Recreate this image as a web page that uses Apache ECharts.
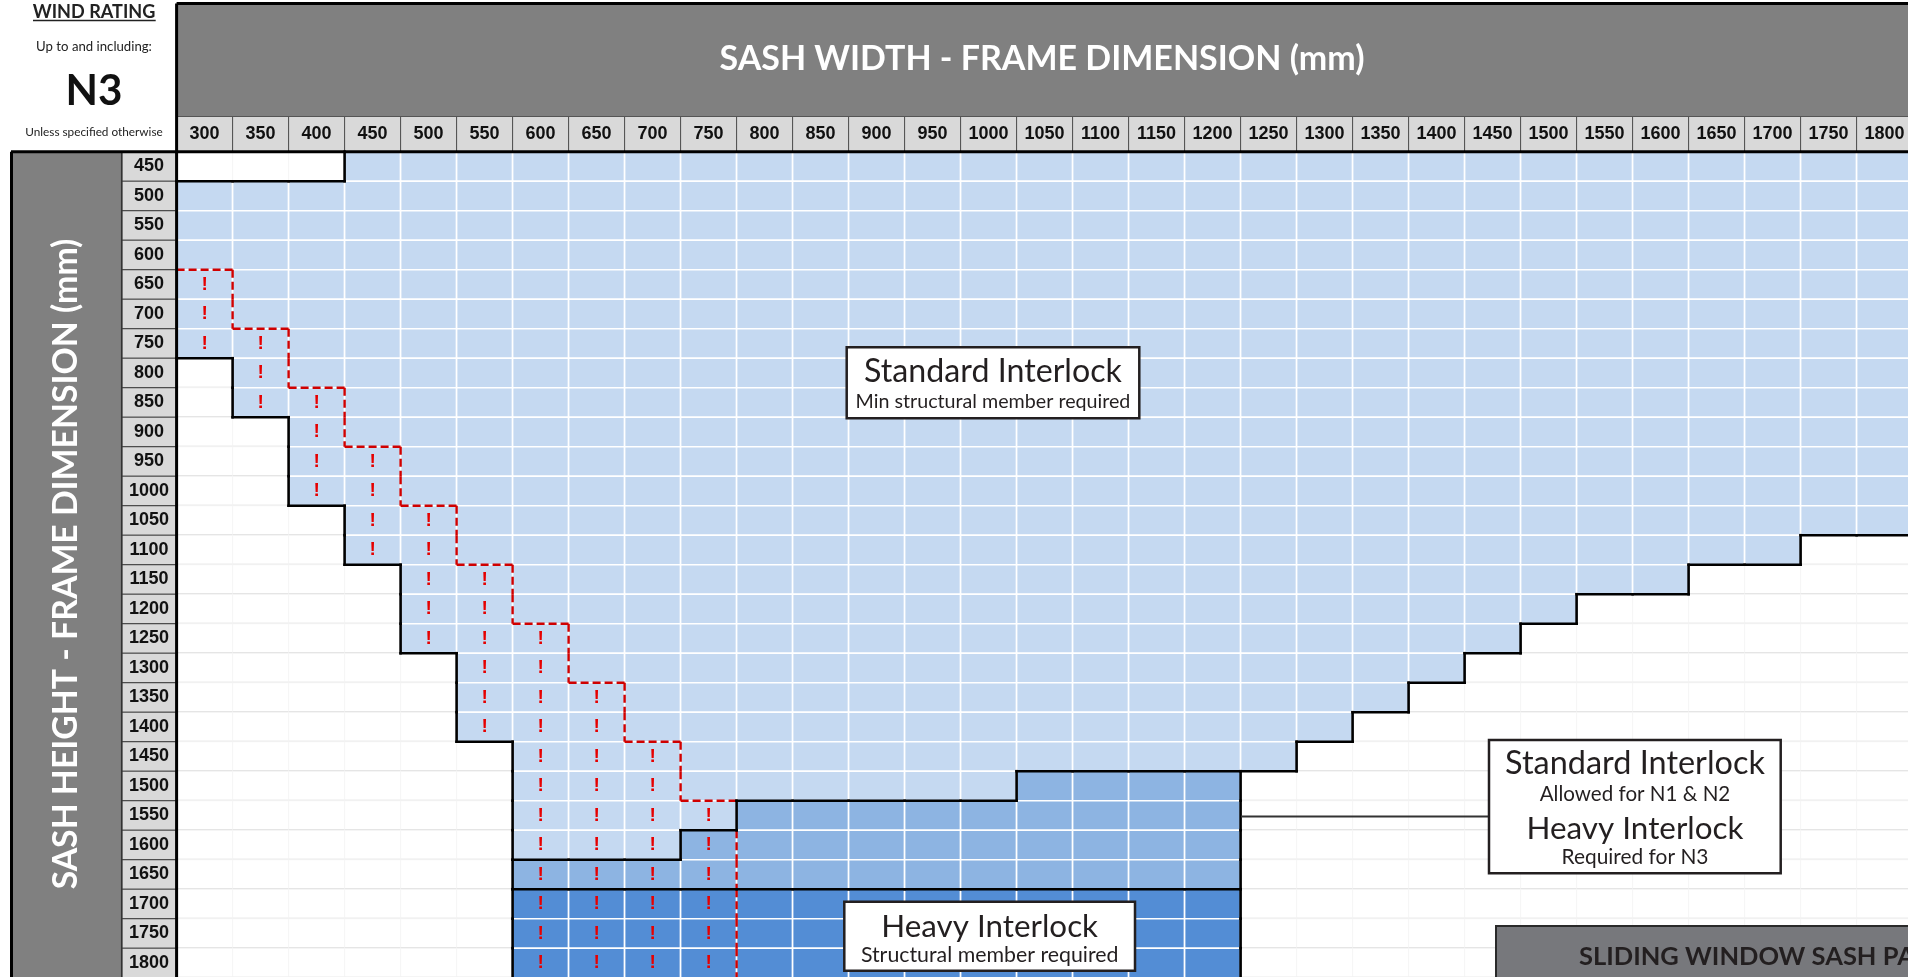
<!DOCTYPE html>
<html>
<head>
<meta charset="utf-8">
<script src="https://cdn.jsdelivr.net/npm/echarts@6.0.0/dist/echarts.min.js"></script>
<style>
html,body{margin:0;padding:0;background:#fff;}
#chart{width:1908px;height:977px;}
</style>
</head>
<body>
<div id="chart"></div>
<script>
// ---------- DATA ----------
const widths = [300,350,400,450,500,550,600,650,700,750,800,850,900,950,1000,1050,1100,1150,1200,1250,1300,1350,1400,1450,1500,1550,1600,1650,1700,1750,1800];
const heights = [450,500,550,600,650,700,750,800,850,900,950,1000,1050,1100,1150,1200,1250,1300,1350,1400,1450,1500,1550,1600,1650,1700,1750,1800];
// first and last sash width that is allowed, for each sash height
const firstColoured = [450,300,300,300,300,300,300,350,350,400,400,400,450,450,500,500,500,550,550,550,600,600,600,600,600,600,600,600];
const lastColoured  = [1800,1800,1800,1800,1800,1800,1800,1800,1800,1800,1800,1800,1800,1700,1600,1500,1450,1400,1350,1300,1250,1200,1200,1200,1200,1200,1200,1200];
// "!" cells run from the first allowed width up to this width (0 = none)
const lastWarning   = [0,0,0,0,300,300,350,350,400,400,450,450,500,500,550,550,600,600,650,650,700,700,750,750,750,750,750,750];
// interlock tier: from this width on (0 = none), level 2 = N1&N2 std / N3 heavy, level 3 = heavy interlock
const interlockFrom  = [0,0,0,0,0,0,0,0,0,0,0,0,0,0,0,0,0,0,0,0,0,1050,800,750,600,600,600,600];
const interlockLevel = [0,0,0,0,0,0,0,0,0,0,0,0,0,0,0,0,0,0,0,0,0,2,2,2,2,3,3,3];

// ---------- build the cell table ----------
const code = [], warn = [];
heights.forEach((h, j) => {
  code[j] = []; warn[j] = [];
  widths.forEach((w, i) => {
    let c = 0;
    if (w >= firstColoured[j] && w <= lastColoured[j]) {
      c = (interlockFrom[j] && w >= interlockFrom[j]) ? interlockLevel[j] : 1;
    }
    code[j][i] = c;
    warn[j][i] = c > 0 && w <= lastWarning[j];
  });
});
const cellData = [], markData = [], blackEdges = [], redEdges = [];
for (let j = 0; j < heights.length; j++) {
  for (let i = 0; i < widths.length; i++) {
    cellData.push([i, j, code[j][i]]);
    if (warn[j][i]) markData.push([i, j]);
    if (i + 1 < widths.length) {
      if (code[j][i] !== code[j][i + 1]) blackEdges.push([i, j, 0]);
      else if (warn[j][i] !== warn[j][i + 1]) redEdges.push([i, j, 0]);
    }
    if (j + 1 < heights.length) {
      if (code[j][i] !== code[j + 1][i]) blackEdges.push([i, j, 1]);
      else if (warn[j][i] !== warn[j + 1][i]) redEdges.push([i, j, 1]);
    }
  }
}

// ---------- styling helpers ----------
const SHADE = {1: '#c5d9f1', 2: '#8db4e2', 3: '#538dd5'};
const ANN = "Lato, 'Open Sans', sans-serif";
const NUM = "'Liberation Sans', Arial, sans-serif";
const mctx = document.createElement('canvas').getContext('2d');
function fit(text, weight, family, target) {
  mctx.font = weight + ' 100px ' + family;
  return 100 * target / mctx.measureText(text).width;
}
function txt(text, x, y, weight, family, target, color, extra) {
  const fs = fit(text, weight, family, target);
  return Object.assign({
    type: 'text', x: x, y: y, z: 100,
    style: {text: text, fill: color, fontSize: fs, fontWeight: weight, fontFamily: family,
            align: 'center', verticalAlign: 'middle', textAlign: 'center', textVerticalAlign: 'middle'}
  }, extra || {});
}
function line(x1, y1, x2, y2, stroke, lw, z) {
  return {type: 'line', z: z || 100, shape: {x1, y1, x2, y2}, style: {stroke: stroke, lineWidth: lw}};
}
function box(x, y, w, h, fill, stroke, lw, z) {
  return {type: 'rect', z: z || 100, shape: {x: x, y: y, width: w, height: h},
          style: {fill: fill, stroke: stroke, lineWidth: lw}};
}

function edgeRender(kind) {
  return function (params, api) {
    const c = api.coord([api.value(0), api.value(1)]);
    const s = api.size([1, 1]);
    let shape;
    if (api.value(2) === 0) {
      const x = c[0] + s[0] / 2;
      shape = {x1: x, y1: c[1] - s[1] / 2, x2: x, y2: c[1] + s[1] / 2};
    } else {
      const y = c[1] + s[1] / 2;
      shape = {x1: c[0] - s[0] / 2, y1: y, x2: c[0] + s[0] / 2, y2: y};
    }
    return kind === 'black'
      ? {type: 'line', shape: shape, style: {stroke: '#000', lineWidth: 2.6, lineCap: 'square'}}
      : {type: 'line', shape: shape, style: {stroke: '#d00000', lineWidth: 2.4, lineDash: [8, 4]}};
  };
}

const chart = echarts.init(document.getElementById('chart'), null, {renderer: 'canvas'});
const option = {
  animation: false,
  backgroundColor: '#ffffff',
  grid: {left: 176.6, top: 151.7, width: 1736, height: 826, containLabel: false, outerBoundsMode: 'none'},
  xAxis: {
    type: 'category', position: 'top', data: widths.map(String),
    axisLine: {show: false}, axisTick: {show: false}, splitLine: {show: false},
    axisLabel: {interval: 0, margin: 17.8, align: 'center', verticalAlign: 'middle',
      width: 55, height: 34, lineHeight: 34, backgroundColor: '#d9d9d9', borderColor: '#555', borderWidth: 1,
      color: '#111', fontSize: 18, fontWeight: 'bold', fontFamily: NUM}
  },
  yAxis: {
    type: 'category', inverse: true, data: heights.map(String),
    axisLine: {show: false}, axisTick: {show: false}, splitLine: {show: false},
    axisLabel: {interval: 0, margin: 27.5, align: 'center', verticalAlign: 'middle',
      width: 53.5, height: 28.5, lineHeight: 28.5, backgroundColor: '#d9d9d9', borderColor: '#444', borderWidth: 1,
      color: '#111', fontSize: 18, fontWeight: 'bold', fontFamily: NUM}
  },
  series: [
    {
      type: 'custom', name: 'cells', data: cellData, encode: {x: 0, y: 1}, silent: true, z: 2,
      renderItem: function (params, api) {
        const c = api.coord([api.value(0), api.value(1)]);
        const s = api.size([1, 1]);
        const x = c[0] - s[0] / 2, y = c[1] - s[1] / 2;
        const k = api.value(2);
        if (k > 0) {
          return {type: 'rect', shape: {x: x, y: y, width: s[0], height: s[1]},
                  style: {fill: SHADE[k], stroke: '#ffffff', lineWidth: 1.6}};
        }
        return {type: 'group', children: [
          {type: 'rect', shape: {x: x, y: y, width: s[0], height: s[1]}, style: {fill: '#ffffff', stroke: '#f5f5f5', lineWidth: 1}},
          {type: 'line', shape: {x1: x, y1: y + s[1], x2: x + s[0], y2: y + s[1]}, style: {stroke: '#d5d5d5', lineWidth: 2}}
        ]};
      }
    },
    {type: 'custom', name: 'warnEdge', data: redEdges, encode: {x: 0, y: 1}, silent: true, z: 3, renderItem: edgeRender('red')},
    {type: 'custom', name: 'zoneEdge', data: blackEdges, encode: {x: 0, y: 1}, silent: true, z: 4, renderItem: edgeRender('black')},
    {
      type: 'custom', name: 'warn', data: markData, encode: {x: 0, y: 1}, silent: true, z: 5,
      renderItem: function (params, api) {
        const c = api.coord([api.value(0), api.value(1)]);
        return {type: 'text', x: c[0], y: c[1],
                style: {text: '!', fill: '#e60000', fontSize: 19, fontWeight: 'bold', fontFamily: NUM,
                        align: 'center', verticalAlign: 'middle'}};
      }
    }
  ],
  graphic: [
    // column header band
    box(176.6, 3.5, 1740, 112.5, '#808080', null, 0, 1),
    line(176.6, 3.5, 1908, 3.5, '#000', 3, 2),
    txt('SASH WIDTH - FRAME DIMENSION (mm)', 1042, 59, 'bold', ANN, 645, '#ffffff'),
    // row header band
    box(11, 151.7, 110.7, 830, '#808080', null, 0, 1),
    line(11.5, 151.7, 11.5, 977, '#000', 3, 2),
    line(121.7, 151.7, 121.7, 977, '#333', 1.5, 2),
    txt('SASH HEIGHT - FRAME DIMENSION (mm)', 66, 564, 'bold', ANN, 651, '#ffffff', {rotation: Math.PI / 2}),
    line(11, 151.7, 1908, 151.7, '#000', 3, 90),
    line(176.6, 3.5, 176.6, 977, '#000', 3, 90),
    // wind rating block
    txt('WIND RATING', 94, 12.5, 'bold', ANN, 122.7, '#222'),
    line(33, 20.5, 155.7, 20.5, '#222', 1.3),
    txt('Up to and including:', 94, 47, 'normal', ANN, 116, '#222'),
    txt('N3', 94, 91, 'bold', ANN, 57, '#111'),
    txt('Unless specified otherwise', 94, 132.5, 'normal', ANN, 137.7, '#222'),
    // annotation: standard interlock
    box(846.7, 347.3, 292.6, 71, '#ffffff', '#231f20', 2.5),
    txt('Standard Interlock', 993, 372, 'normal', ANN, 258, '#231f20'),
    txt('Min structural member required', 993, 401.5, 'normal', ANN, 275, '#231f20'),
    // annotation: heavy interlock
    box(844.3, 901.7, 290.7, 69, '#ffffff', '#231f20', 2.5),
    txt('Heavy Interlock', 989.7, 927, 'normal', ANN, 216.7, '#231f20'),
    txt('Structural member required', 989.7, 955.5, 'normal', ANN, 257.7, '#231f20'),
    // annotation: N1/N2 vs N3
    line(1241, 816.5, 1489, 816.5, '#333', 2),
    box(1489, 740, 291.7, 133.3, '#ffffff', '#231f20', 2.5),
    txt('Standard Interlock', 1635, 764, 'normal', ANN, 260, '#231f20'),
    txt('Allowed for N1 & N2', 1635, 794, 'normal', ANN, 190.7, '#231f20'),
    txt('Heavy Interlock', 1635, 829, 'normal', ANN, 217, '#231f20'),
    txt('Required for N3', 1635, 857, 'normal', ANN, 147, '#231f20'),
    // panel title (cut by the page edge)
    box(1496, 926, 430, 60, '#77787c', '#2a2a2a', 2),
    {type: 'text', x: 1579, y: 957, z: 100,
     style: {text: 'SLIDING WINDOW SASH PANEL', fill: '#231f20',
             fontSize: fit('SLIDING WINDOW SASH PA', 'bold', ANN, 336), fontWeight: 'bold', fontFamily: ANN,
             align: 'left', verticalAlign: 'middle'}}
  ]
};
chart.setOption(option);
</script>
</body>
</html>
